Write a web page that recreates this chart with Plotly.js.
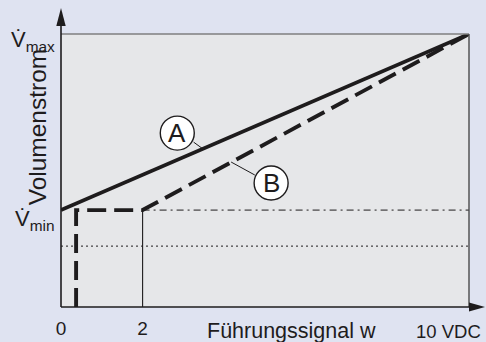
<!DOCTYPE html>
<html>
<head>
<meta charset="utf-8">
<script src="https://cdn.plot.ly/plotly-3.0.1.min.js"></script>
<style>html,body{margin:0;padding:0;background:#dfe3f1;}</style>
</head>
<body>
<div id="chart" style="width:486px;height:342px;"></div>
<script>
// ---- data (normalised flow, 0..1 = 0..Vmax; signal 0..10 VDC) ----
const vMin = 0.355;
const vMax = 1.0;
const vLow = 0.223;          // dotted reference level
const xA = [0, 10];
const yA = [vMin, vMax];
const xB = [0.37, 0.37, 2, 10];
const yB = [0, vMin, vMin, vMax];
const xRef2 = [2, 2];
const yRef2 = [0, vMin];
const xDashDot = [2, 10];
const yDashDot = [vMin, vMin];
const xDotted = [0, 10];
const yDotted = [vLow, vLow];
const xTickVals = [0, 2];
const xTickText = ['0', '2'];
const xEndLabel = '10 VDC';
const yTickVals = [vMax, vMin];
const yTickText = ['V\u0307<sub>max</sub>', 'V\u0307<sub>min</sub>'];
const yTickShift = [-7, -10];
const xTitle = 'Führungssignal w';
const yTitle = 'Volumenstrom';
const curveLabels = ['A', 'B'];
const labelPos = [[2.85, 0.637], [5.15, 0.454]];
const leaderFrom = [[3.25, 0.604], [4.75, 0.4835]];
const leaderTo = [[3.48, 0.579], [4.17, 0.531]];

const ink = '#1e1c1d';
const font = '"Liberation Sans", Arial, Helvetica, sans-serif';

const traces = [
  {x: xDotted, y: yDotted, mode: 'lines', line: {color: ink, width: 1, dash: '2px,3px'}, cliponaxis: false, hoverinfo: 'skip'},
  {x: xDashDot, y: yDashDot, mode: 'lines', line: {color: ink, width: 1, dash: '7px,4px,2px,4px'}, cliponaxis: false, hoverinfo: 'skip'},
  {x: xRef2, y: yRef2, mode: 'lines', line: {color: ink, width: 1.1}, cliponaxis: false, hoverinfo: 'skip'},
  {x: xA, y: yA, mode: 'lines', line: {color: ink, width: 3.7}, cliponaxis: false, hoverinfo: 'skip'},
  {x: xB, y: yB, mode: 'lines', line: {color: ink, width: 3.9, dash: '19px,8px'}, cliponaxis: false, hoverinfo: 'skip'}
];

const shapes = [
  // top and right frame
  {type: 'line', xref: 'paper', yref: 'paper', x0: 0, x1: 1, y0: 1, y1: 1, line: {color: '#7f7f7f', width: 1.6}},
  {type: 'line', xref: 'paper', yref: 'paper', x0: 1, x1: 1, y0: 0, y1: 1, line: {color: '#4a4a4a', width: 1.4}},
  // axes with arrows
  {type: 'line', xref: 'paper', yref: 'paper', x0: 0, x1: 0, y0: 0, y1: 1.04, line: {color: ink, width: 1.6}},
  {type: 'path', xref: 'paper', yref: 'paper', path: 'M -0.0115 1.029 L 0.0115 1.029 L 0 1.0952 Z', fillcolor: ink, line: {width: 0}},
  {type: 'line', xref: 'paper', yref: 'paper', x0: 0, x1: 1.01, y0: 0, y1: 0, line: {color: ink, width: 1.6}},
  {type: 'path', xref: 'paper', yref: 'paper', path: 'M 1.0 -0.0165 L 1.0 0.0165 L 1.0392 0 Z', fillcolor: ink, line: {width: 0}}
];
curveLabels.forEach((lab, i) => {
  shapes.push({type: 'line', x0: leaderFrom[i][0], y0: leaderFrom[i][1], x1: leaderTo[i][0], y1: leaderTo[i][1], line: {color: ink, width: 1}});
  shapes.push({type: 'circle', xsizemode: 'pixel', ysizemode: 'pixel', xanchor: labelPos[i][0], yanchor: labelPos[i][1],
    x0: -17, x1: 17, y0: -17, y1: 17, fillcolor: '#ffffff', line: {color: ink, width: 1.4}});
});

const annotations = [];
curveLabels.forEach((lab, i) => {
  annotations.push({x: labelPos[i][0], y: labelPos[i][1], text: lab, showarrow: false, xanchor: 'center', yanchor: 'middle',
    font: {family: font, size: 26, color: ink}, yshift: 0});
});
yTickVals.forEach((v, i) => {
  annotations.push({xref: 'paper', x: 0, y: v, text: yTickText[i], showarrow: false, xanchor: 'right', yanchor: 'middle',
    xshift: -4, yshift: yTickShift[i], font: {family: font, size: 22, color: ink}});
});
annotations.push({xref: 'paper', yref: 'paper', x: 1.035, y: 0, text: xEndLabel, showarrow: false, xanchor: 'right', yanchor: 'middle',
  yshift: -24, font: {family: font, size: 18.5, color: ink}});
annotations.push({xref: 'paper', yref: 'paper', x: 0.565, y: 0, text: xTitle, showarrow: false, xanchor: 'center', yanchor: 'middle',
  yshift: -24, font: {family: font, size: 21.5, color: ink}});
annotations.push({xref: 'paper', yref: 'paper', x: -0.0575, y: 0.66, text: yTitle, showarrow: false, textangle: -90,
  xanchor: 'center', yanchor: 'middle', font: {family: font, size: 24.5, color: ink}});

const layout = {
  width: 486, height: 342,
  margin: {l: 61, r: 17, t: 34, b: 35, pad: 0},
  paper_bgcolor: '#dfe3f1',
  plot_bgcolor: '#e6e7e9',
  showlegend: false,
  xaxis: {range: [0, 10], showgrid: false, zeroline: false, showline: false, ticks: '',
    tickvals: xTickVals, ticktext: xTickText, ticklabelstandoff: 8,
    tickfont: {family: font, size: 19, color: ink}, fixedrange: true},
  yaxis: {range: [0, 1], showgrid: false, zeroline: false, showline: false, showticklabels: false, ticks: '', fixedrange: true},
  shapes: shapes,
  annotations: annotations
};

Plotly.newPlot('chart', traces, layout, {staticPlot: true, displayModeBar: false});
</script>
</body>
</html>
